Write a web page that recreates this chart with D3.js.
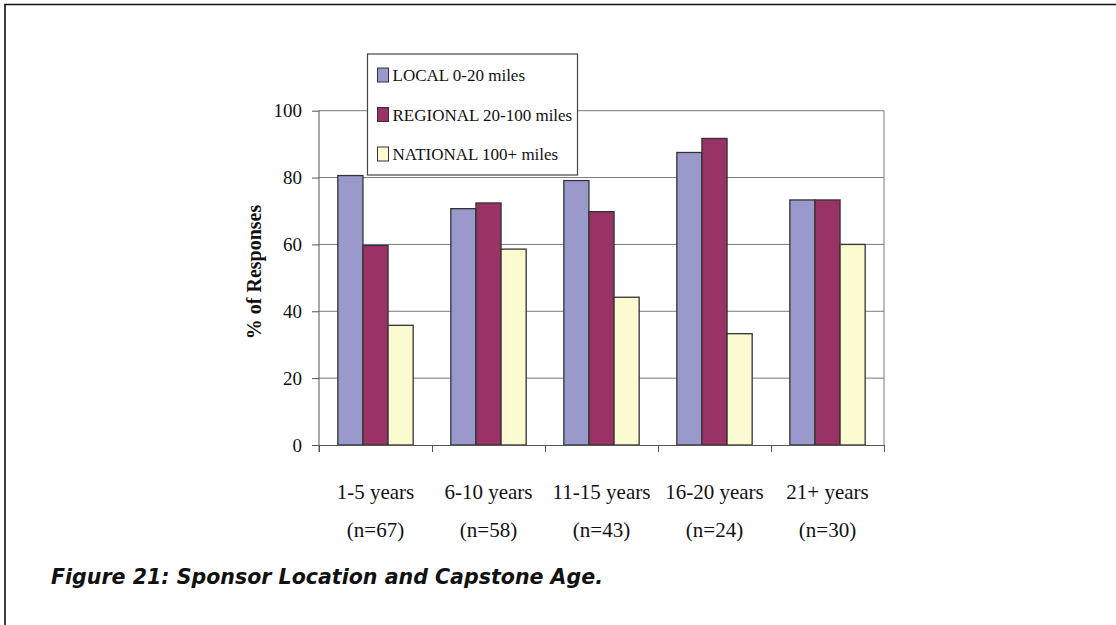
<!DOCTYPE html>
<html>
<head>
<meta charset="utf-8">
<script src="https://cdn.jsdelivr.net/npm/d3@7"></script>
<style>
  body { margin: 0; background: #fff; }
  svg { display: block; }
</style>
</head>
<body>
<div id="chart"></div>
<script>
const categories = ["1-5 years", "6-10 years", "11-15 years", "16-20 years", "21+ years"];
const sampleSizes = ["(n=67)", "(n=58)", "(n=43)", "(n=24)", "(n=30)"];
const seriesNames = ["LOCAL 0-20 miles", "REGIONAL 20-100 miles", "NATIONAL 100+ miles"];
const localValues = [80.6, 70.7, 79.1, 87.5, 73.3];
const regionalValues = [59.7, 72.4, 69.8, 91.7, 73.3];
const nationalValues = [35.8, 58.6, 44.2, 33.3, 60.0];
const yTicks = [0, 20, 40, 60, 80, 100];
const colors = ["#9999cc", "#993366", "#fcfad0"];

const width = 1116, height = 625;
const plot = { left: 319, right: 884, top: 110.7, bottom: 445 };

const svg = d3.select("#chart").append("svg")
  .attr("width", width)
  .attr("height", height);

// page frame (top and left edges only)
svg.append("path")
  .attr("d", `M5,${height} V4.5 H${width}`)
  .attr("fill", "none")
  .attr("stroke", "#111")
  .attr("stroke-width", 1.6);

const serif = "'Liberation Serif', 'Times New Roman', serif";

const y = d3.scaleLinear().domain([0, 100]).range([plot.bottom, plot.top]);
const x0 = d3.scaleBand().domain(categories).range([plot.left, plot.right]).padding(0);
const x1 = d3.scaleBand().domain(seriesNames).range([0, x0.bandwidth()])
  .paddingInner(0).paddingOuter(0.75);
const color = d3.scaleOrdinal().domain(seriesNames).range(colors);

// gridlines
svg.append("g")
  .selectAll("line")
  .data(yTicks.filter(d => d > 0))
  .join("line")
  .attr("x1", plot.left).attr("x2", plot.right)
  .attr("y1", d => y(d)).attr("y2", d => y(d))
  .attr("stroke", "#7a7a7a")
  .attr("stroke-width", 1);

// right edge of plot area
svg.append("line")
  .attr("x1", plot.right).attr("x2", plot.right)
  .attr("y1", plot.top).attr("y2", plot.bottom)
  .attr("stroke", "#7a7a7a");

// bars
const rows = categories.map((c, i) => ({
  category: c,
  values: [localValues[i], regionalValues[i], nationalValues[i]]
}));

const groups = svg.append("g")
  .selectAll("g")
  .data(rows)
  .join("g")
  .attr("transform", d => `translate(${x0(d.category)},0)`);

groups.selectAll("rect")
  .data(d => d.values.map((v, j) => ({ series: seriesNames[j], value: v })))
  .join("rect")
  .attr("x", d => x1(d.series))
  .attr("y", d => y(d.value))
  .attr("width", x1.bandwidth())
  .attr("height", d => y(0) - y(d.value))
  .attr("fill", d => color(d.series))
  .attr("stroke", "#333")
  .attr("stroke-width", 1.3);

// y axis
const yAxis = svg.append("g")
  .attr("transform", `translate(${plot.left},0)`)
  .call(d3.axisLeft(y).tickValues(yTicks).tickSize(7).tickPadding(10).tickSizeOuter(0));
yAxis.select(".domain").attr("stroke", "#555").attr("d", `M0,${plot.top}V${plot.bottom + 7}`);
yAxis.selectAll(".tick line").attr("stroke", "#555");
yAxis.selectAll("text")
  .attr("font-family", serif)
  .attr("font-size", 19)
  .attr("fill", "#111");

// x axis: boundary ticks
const xEdge = d3.scaleLinear().domain([0, categories.length]).range([plot.left, plot.right]);
const xAxis = svg.append("g")
  .attr("transform", `translate(0,${plot.bottom})`)
  .call(d3.axisBottom(xEdge).tickValues(d3.range(categories.length + 1)).tickFormat("").tickSize(7).tickSizeOuter(0));
xAxis.select(".domain").attr("stroke", "#555");
xAxis.selectAll(".tick line").attr("stroke", "#555");

// category labels
const xLabels = svg.append("g")
  .attr("transform", `translate(0,${plot.bottom})`)
  .call(d3.axisBottom(x0).tickSize(0).tickPadding(0));
xLabels.select(".domain").remove();
xLabels.selectAll(".tick text").each(function (d, i) {
  const t = d3.select(this);
  t.text(null).attr("y", 0).attr("dy", null)
    .attr("font-family", serif)
    .attr("font-size", 21)
    .attr("fill", "#111");
  t.append("tspan").attr("x", 0).attr("y", 54).text(d);
  t.append("tspan").attr("x", 0).attr("y", 92).text(sampleSizes[i]);
});

// y label
svg.append("text")
  .attr("transform", "translate(261,272) rotate(-90)")
  .attr("text-anchor", "middle")
  .attr("font-family", serif)
  .attr("font-weight", "bold")
  .attr("font-size", 20)
  .attr("fill", "#111")
  .text("% of Responses");

// legend
const legend = svg.append("g").attr("transform", "translate(367.5,54)");
legend.append("rect")
  .attr("width", 210).attr("height", 121)
  .attr("fill", "#fff")
  .attr("stroke", "#444")
  .attr("stroke-width", 1.2);

const legendRow = legend.selectAll("g.row")
  .data(seriesNames)
  .join("g")
  .attr("class", "row")
  .attr("transform", (d, i) => `translate(10,${21 + i * 39.5})`);
legendRow.append("rect")
  .attr("x", 0).attr("y", -7)
  .attr("width", 11).attr("height", 14)
  .attr("fill", d => color(d))
  .attr("stroke", "#333")
  .attr("stroke-width", 1);
legendRow.append("text")
  .attr("x", 15).attr("y", 6)
  .attr("font-family", serif)
  .attr("font-size", 17)
  .attr("fill", "#111")
  .text(d => d);

// caption
svg.append("text")
  .attr("x", 51).attr("y", 584)
  .attr("font-family", "'DejaVu Sans', 'Open Sans', sans-serif")
  .attr("font-weight", "bold")
  .attr("font-style", "italic")
  .attr("font-size", 21)
  .attr("textLength", 552)
  .attr("lengthAdjust", "spacingAndGlyphs")
  .attr("fill", "#111")
  .text("Figure 21: Sponsor Location and Capstone Age.");
</script>
</body>
</html>
